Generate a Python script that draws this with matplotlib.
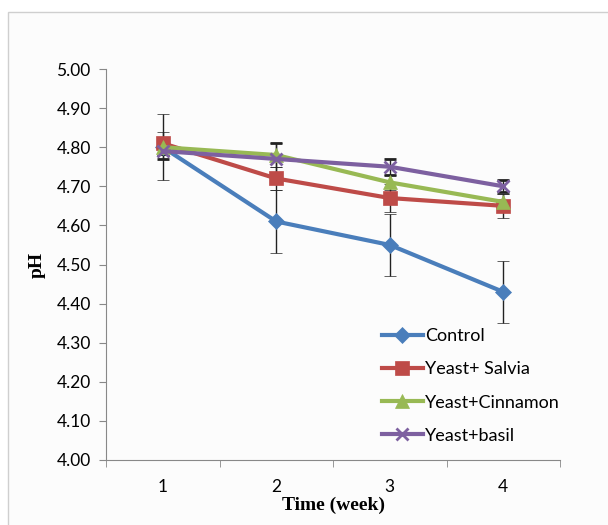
import matplotlib.pyplot as plt
from matplotlib.patches import Rectangle
from matplotlib.lines import Line2D

weeks = [1, 2, 3, 4]
control = [4.80, 4.61, 4.55, 4.43]
control_err = [0.085, 0.08, 0.08, 0.08]
salvia = [4.81, 4.72, 4.67, 4.65]
salvia_err = [0.03, 0.03, 0.035, 0.03]
cinnamon = [4.80, 4.78, 4.71, 4.66]
cinnamon_err = [0.02, 0.03, 0.02, 0.02]
basil = [4.79, 4.77, 4.75, 4.70]
basil_err = [0.02, 0.04, 0.02, 0.015]

series = [
    ("Control", control, control_err, "#4a7ebb", "D", 8),
    ("Yeast+ Salvia", salvia, salvia_err, "#be4b48", "s", 10),
    ("Yeast+Cinnamon", cinnamon, cinnamon_err, "#98b954", "^", 10),
    ("Yeast+basil", basil, basil_err, "#7d60a0", "x", 9),
]

fig = plt.figure(figsize=(6.08, 5.25), dpi=100)
fig.patch.set_facecolor("white")
# chart area border like the excel export
fig.add_artist(Rectangle((8 / 608, -0.01), 1.0, 1 - 12 / 525 + 0.01,
                         transform=fig.transFigure, facecolor="#fcfcfc",
                         edgecolor="#cfcfcf", lw=1, zorder=-1))

ax = fig.add_axes([106 / 608, 1 - 460 / 525, 454 / 608, 391 / 525])
ax.set_facecolor("none")

handles = []
for name, vals, err, col, mk, ms in series:
    mew = 2 if mk == "x" else 0.5
    ax.errorbar(weeks, vals, yerr=err, color=col, lw=3, marker=mk, ms=ms,
                mew=mew, mec=col, ecolor="#222222",
                elinewidth=1, capsize=4, capthick=1)
    handles.append(Line2D([], [], color=col, lw=3, marker=mk, ms=ms,
                          mew=mew, mec=col, label=name))

ax.set_ylim(4.0, 5.0)
ax.set_xlim(0.5, 4.5)
ax.set_yticks([4.0 + 0.1 * i for i in range(11)])
ax.set_yticklabels(["%.2f" % (4.0 + 0.1 * i) for i in range(11)],
                   family="Lato", fontsize=12.5)
ax.set_xticks(weeks)
ax.set_xticklabels([str(w) for w in weeks], family="Lato", fontsize=12.5)
ax.tick_params(axis="x", length=0, pad=14)
ax.set_xticks([0.5, 1.5, 2.5, 3.5, 4.5], minor=True)
ax.tick_params(axis="x", which="minor", length=5, color="#888888")
ax.tick_params(axis="y", length=5, color="#888888", pad=6)

for s in ["top", "right"]:
    ax.spines[s].set_visible(False)
for s in ["left", "bottom"]:
    ax.spines[s].set_color("#888888")

ax.set_xlabel("Time (week)", family="Liberation Serif", weight="bold", fontsize=14, labelpad=1)
ax.set_ylabel("pH", family="Liberation Serif", weight="bold", fontsize=14, labelpad=8)

ax.legend(handles=handles, loc="lower right", bbox_to_anchor=(1.035, 0.0),
          frameon=False, prop={"family": "Lato", "size": 13}, handlelength=2.3,
          labelspacing=0.95, handletextpad=0.1)

fig.savefig("out.png", dpi=100)
